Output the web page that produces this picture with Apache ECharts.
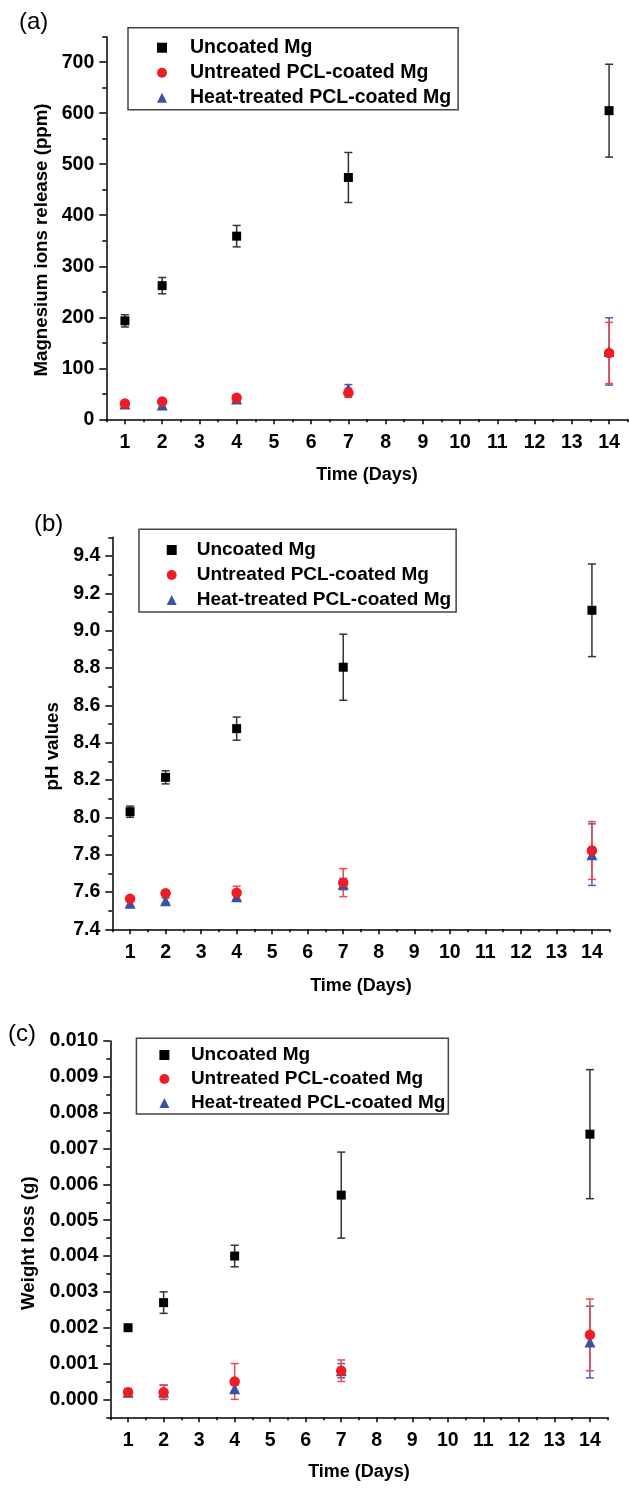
<!DOCTYPE html>
<html>
<head>
<meta charset="utf-8">
<script src="https://cdn.jsdelivr.net/npm/echarts@6/dist/echarts.min.js"></script>
<style>
  html, body { margin: 0; padding: 0; background: #fff; }
  #chart { width: 629px; height: 1497px; }
</style>
</head>
<body>
<div id="chart"></div>
<script>
// sampling days and x axis ticks
const days = [1, 2, 4, 7, 14]
const xTicks = [1, 2, 3, 4, 5, 6, 7, 8, 9, 10, 11, 12, 13, 14]
const xMinorTicks = [0.5, 1.5, 2.5, 3.5, 4.5, 5.5, 6.5, 7.5, 8.5, 9.5, 10.5, 11.5, 12.5, 13.5, 14.5]

const seriesNames = ['Uncoated Mg', 'Untreated PCL-coated Mg', 'Heat-treated PCL-coated Mg']

// (a) magnesium ions release (ppm)
const ionsUncoated = [193, 262, 359, 474, 605]
const ionsUncoatedErr = [12, 16, 21, 49, 91]
const ionsUntreated = [31, 35, 42, 52, 130]
const ionsUntreatedErr = [5, 5, 5, 9, 60]
const ionsHeat = [30, 28, 40, 60, 133]
const ionsHeatErr = [6, 6, 6, 8, 66]
const ionsTicks = [0, 100, 200, 300, 400, 500, 600, 700]
const ionsMinorTicks = [50, 150, 250, 350, 450, 550, 650, 750]

// (b) pH values
const phUncoated = [8.03, 8.214, 8.475, 8.804, 9.109]
const phUncoatedErr = [0.03, 0.035, 0.062, 0.177, 0.248]
const phUntreated = [7.563, 7.593, 7.596, 7.65, 7.822]
const phUntreatedErr = [0.01, 0.01, 0.035, 0.075, 0.155]
const phHeat = [7.54, 7.553, 7.575, 7.642, 7.8]
const phHeatErr = [0.015, 0.015, 0.02, 0.03, 0.165]
const phTicks = [7.4, 7.6, 7.8, 8.0, 8.2, 8.4, 8.6, 8.8, 9.0, 9.2, 9.4]
const phMinorTicks = [7.5, 7.7, 7.9, 8.1, 8.3, 8.5, 8.7, 8.9, 9.1, 9.3, 9.5]

// (c) weight loss (g)
const weightUncoated = [0.002, 0.0027, 0.004, 0.0057, 0.0074]
const weightUncoatedErr = [0, 0.0003, 0.0003, 0.0012, 0.0018]
const weightUntreated = [0.0002, 0.0002, 0.0005, 0.0008, 0.0018]
const weightUntreatedErr = [0.0001, 0.0002, 0.0005, 0.0003, 0.001]
const weightHeat = [0.0002, 0.0002, 0.0003, 0.0008, 0.0016]
const weightHeatErr = [0.0001, 0.0002, 0.0001, 0.0002, 0.001]
const weightTicks = [0, 0.001, 0.002, 0.003, 0.004, 0.005, 0.006, 0.007, 0.008, 0.009, 0.01]
const weightMinorTicks = [-0.0005, 0.0005, 0.0015, 0.0025, 0.0035, 0.0045, 0.0055, 0.0065, 0.0075, 0.0085, 0.0095]

const FONT = '"Liberation Sans", Arial, sans-serif'
const markColors = ['#000000', '#ee1d24', '#3a52a3']
const errColors = ['#333333', '#f0474d', '#4b5fae']
const symbols = ['rect', 'circle', 'triangle']
const symbolSizes = [9, 10.5, 11]

const panels = [
  {
    label: '(a)', labelPos: [19, 10],
    grid: { left: 106.3, top: 36.7, width: 521.4, height: 382.6 },
    yMin: 0, yMax: 750, ticks: ionsTicks, minorTicks: ionsMinorTicks,
    fmt: v => String(v),
    yName: 'Magnesium ions release (ppm)', yNameGap: 55, yNameShift: 24, xNameGap: 47,
    values: [ionsUncoated, ionsUntreated, ionsHeat],
    errors: [ionsUncoatedErr, ionsUntreatedErr, ionsHeatErr],
    legend: { left: 128, top: 27.7, padding: [10, 7, 2, 29], gap: 5, textPad: 18, fontSize: 19.5 }
  },
  {
    label: '(b)', labelPos: [34, 512],
    grid: { left: 112.3, top: 537.3, width: 497.4, height: 392 },
    yMin: 7.4, yMax: 9.5, ticks: phTicks, minorTicks: phMinorTicks,
    fmt: v => v.toFixed(1),
    yName: 'pH values', yNameGap: 49, yNameShift: 26, xNameGap: 48,
    values: [phUncoated, phUntreated, phHeat],
    errors: [phUncoatedErr, phUntreatedErr, phHeatErr],
    legend: { left: 139, top: 529.3, padding: [10.7, 5, 2, 27.7], gap: 5, textPad: 15, fontSize: 19 }
  },
  {
    label: '(c)', labelPos: [8, 1022],
    grid: { left: 110.3, top: 1041, width: 497.4, height: 376.3 },
    yMin: -0.0005, yMax: 0.01, ticks: weightTicks, minorTicks: weightMinorTicks,
    fmt: v => v.toFixed(3),
    yName: 'Weight loss (g)', yNameGap: 69, yNameShift: 28, xNameGap: 46,
    values: [weightUncoated, weightUntreated, weightHeat],
    errors: [weightUncoatedErr, weightUntreatedErr, weightHeatErr],
    legend: { left: 136.4, top: 1038.3, padding: [6.7, 3, 1, 23], gap: 4, textPad: 16.5, fontSize: 19 }
  }
]

const renderErrorBar = color => (params, api) => {
  const x = api.value(0)
  const lo = api.coord([x, api.value(1)])
  const hi = api.coord([x, api.value(2)])
  const cap = 4
  const style = { stroke: color, lineWidth: 1.5 }
  return {
    type: 'group',
    children: [
      { type: 'line', shape: { x1: lo[0], y1: lo[1], x2: hi[0], y2: hi[1] }, style },
      { type: 'line', shape: { x1: hi[0] - cap, y1: hi[1], x2: hi[0] + cap, y2: hi[1] }, style },
      { type: 'line', shape: { x1: lo[0] - cap, y1: lo[1], x2: lo[0] + cap, y2: lo[1] }, style }
    ]
  }
}

const option = {
  animation: false,
  backgroundColor: '#fff',
  title: [], grid: [], xAxis: [], yAxis: [], legend: [], series: []
}

const labelStyle = { color: '#000', fontFamily: FONT, fontWeight: 'bold', fontSize: 19.5 }
const lineStyle = { color: '#000', width: 1.5 }

panels.forEach((p, i) => {
  option.title.push({
    text: p.label, left: p.labelPos[0], top: p.labelPos[1], padding: 0,
    textStyle: { fontFamily: FONT, fontWeight: 'normal', fontSize: 24, color: '#000' }
  })
  option.grid.push(p.grid)

  // main x axis: integer ticks with labels
  option.xAxis.push({
    type: 'value', gridIndex: i, min: 0.5, max: 14.5, position: 'bottom',
    name: 'Time (Days)', nameLocation: 'middle', nameGap: p.xNameGap,
    nameTextStyle: { color: '#000', fontFamily: FONT, fontWeight: 'bold', fontSize: 18 },
    axisLine: { onZero: false, lineStyle },
    axisTick: { customValues: xTicks, length: 5, lineStyle },
    axisLabel: Object.assign({ customValues: xTicks, margin: 13 }, labelStyle),
    splitLine: { show: false }
  })
  // minor x ticks, axis moved onto the bottom edge
  option.xAxis.push({
    type: 'value', gridIndex: i, min: 0.5, max: 14.5, position: 'top', offset: -p.grid.height,
    axisLine: { show: false, onZero: false },
    axisTick: { customValues: xMinorTicks, inside: true, length: 3, lineStyle },
    axisLabel: { show: false },
    splitLine: { show: false }
  })

  option.yAxis.push({
    type: 'value', gridIndex: i, min: p.yMin, max: p.yMax, position: 'left',
    name: p.yName, nameLocation: 'middle', nameGap: p.yNameGap,
    nameTextStyle: { color: '#000', fontFamily: FONT, fontWeight: 'bold', fontSize: 18.7, padding: [0, p.yNameShift, 0, 0] },
    axisLine: { show: true, onZero: false, lineStyle },
    axisTick: { customValues: p.ticks, length: 7, lineStyle },
    axisLabel: Object.assign({ customValues: p.ticks, margin: 12, formatter: p.fmt }, labelStyle),
    splitLine: { show: false }
  })
  option.yAxis.push({
    type: 'value', gridIndex: i, min: p.yMin, max: p.yMax, position: 'right', offset: -p.grid.width,
    axisLine: { show: false, onZero: false },
    axisTick: { show: true, customValues: p.minorTicks, inside: true, length: 4, lineStyle },
    axisLabel: { show: false },
    splitLine: { show: false }
  })

  option.legend.push({
    orient: 'vertical', left: p.legend.left, top: p.legend.top,
    padding: p.legend.padding, itemGap: p.legend.gap,
    itemWidth: 10, itemHeight: 10,
    borderColor: '#444', borderWidth: 1.5, borderRadius: 0,
    selectedMode: false,
    textStyle: {
      color: '#000', fontFamily: FONT, fontWeight: 'bold', fontSize: p.legend.fontSize,
      lineHeight: 20, padding: [0, 0, 0, p.legend.textPad]
    },
    data: seriesNames.map((name, k) => ({ name, icon: symbols[k] }))
  })

  const xi = 2 * i, yi = 2 * i
  // error bars first: uncoated, heat-treated, untreated
  ;[0, 2, 1].forEach(k => {
    option.series.push({
      type: 'custom', name: seriesNames[k] + ' error',
      xAxisIndex: xi, yAxisIndex: yi, z: 2,
      renderItem: renderErrorBar(errColors[k]),
      encode: { x: 0, y: [1, 2] },
      data: days.map((d, j) => [d, p.values[k][j] - p.errors[k][j], p.values[k][j] + p.errors[k][j]])
    })
  })
  // markers: red circles end up above blue triangles
  ;[0, 2, 1].forEach(k => {
    option.series.push({
      type: 'scatter', name: seriesNames[k],
      xAxisIndex: xi, yAxisIndex: yi, z: 3,
      symbol: symbols[k], symbolSize: symbolSizes[k],
      itemStyle: { color: markColors[k], opacity: 1 },
      data: days.map((d, j) => [d, p.values[k][j]])
    })
  })
})

const chart = echarts.init(document.getElementById('chart'))
chart.setOption(option)
</script>
</body>
</html>
